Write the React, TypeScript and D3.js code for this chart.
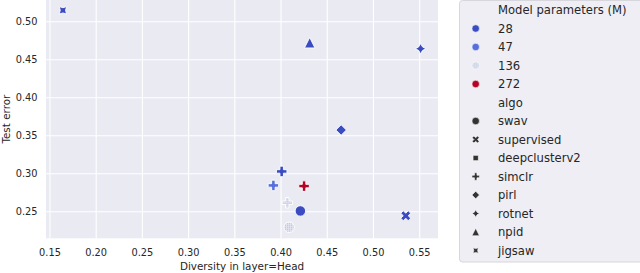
import React, { useEffect, useRef } from "react";
import * as d3 from "d3";

// legend entries
const paramSizes = [28, 47, 136, 272];
const algos = ["swav", "supervised", "deepclusterv2", "simclr", "pirl", "rotnet", "npid", "jigsaw"];

// points
const pointAlgo = ["jigsaw", "npid", "rotnet", "pirl", "simclr", "simclr", "simclr", "simclr", "swav", "swav", "supervised"];
const pointParams = [28, 28, 28, 28, 28, 47, 272, 136, 28, 136, 28];
const diversity = [0.164, 0.431, 0.551, 0.465, 0.4007, 0.3917, 0.4249, 0.4068, 0.4209, 0.4087, 0.5349];
const testError = [0.515, 0.4724, 0.4645, 0.3575, 0.303, 0.2846, 0.2837, 0.2618, 0.251, 0.2295, 0.2447];

const xTicks = [0.15, 0.2, 0.25, 0.3, 0.35, 0.4, 0.45, 0.5, 0.55];
const yTicks = [0.25, 0.3, 0.35, 0.4, 0.45, 0.5];

const paramColors: Record<number, string> = {
  28: "#3b4cc0",
  47: "#566fdc",
  136: "url(#dots136)",
  272: "#b40426",
};

// matplotlib-like marker paths, s = full marker size in px
function markerPath(algo: string, s: number): string {
  const h = s / 2;
  const poly = (pts: number[][]) => "M" + pts.map(p => p[0].toFixed(2) + "," + p[1].toFixed(2)).join("L") + "Z";
  const star = (n: number, rot: number) => {
    const pts: number[][] = [];
    for (let i = 0; i < n * 2; i++) {
      const r = i % 2 === 0 ? h : h * 0.5;
      const a = (Math.PI / n) * i + rot;
      pts.push([r * Math.sin(a), -r * Math.cos(a)]);
    }
    return poly(pts);
  };
  const plus = [[-1, -3], [1, -3], [1, -1], [3, -1], [3, 1], [1, 1], [1, 3], [-1, 3], [-1, 1], [-3, 1], [-3, -1], [-1, -1]];
  switch (algo) {
    case "swav":
      return d3.symbol().type(d3.symbolCircle).size(Math.PI * h * h)() as string;
    case "simclr":
      return poly(plus.map(p => [p[0] * s / 6, p[1] * s / 6]));
    case "supervised": {
      const c = Math.SQRT1_2;
      return poly(plus.map(p => [(p[0] * c - p[1] * c) * s / 6, (p[0] * c + p[1] * c) * s / 6]));
    }
    case "deepclusterv2": {
      const q = h * Math.SQRT1_2;
      return poly([[-q, -q], [q, -q], [q, q], [-q, q]]);
    }
    case "pirl":
      return poly([[0, -h], [h, 0], [0, h], [-h, 0]]);
    case "rotnet":
      return star(4, 0);
    case "npid":
      return poly([[0, -h], [h, h], [-h, h]]);
    case "jigsaw":
      return star(4, Math.PI / 4);
  }
  return "";
}

const W = 640, H = 273;
const margin = { left: 46, right: 438, top: 0, bottom: 238.3 };

function App() {
  const ref = useRef<SVGSVGElement>(null);

  useEffect(() => {
    const svg = d3.select(ref.current);
    svg.selectAll("*").remove();

    const defs = svg.append("defs");
    const pat = defs.append("pattern").attr("id", "dots136").attr("patternUnits", "userSpaceOnUse")
      .attr("width", 2).attr("height", 2);
    pat.append("rect").attr("width", 2).attr("height", 2).attr("fill", "#e2e4ee");
    pat.append("rect").attr("width", 1).attr("height", 1).attr("fill", "#b3bfdf");

    const x = d3.scaleLinear().domain([0.1457, 0.5698]).range([margin.left, margin.right]);
    const y = d3.scaleLinear().domain([0.215, 0.5286]).range([margin.bottom, margin.top]);

    const font = "DejaVu Sans, sans-serif";
    const textColor = "#262626";

    // background
    svg.append("rect")
      .attr("x", margin.left).attr("y", margin.top)
      .attr("width", margin.right - margin.left).attr("height", margin.bottom - margin.top)
      .attr("fill", "#eaeaf2");

    // grid
    svg.selectAll(".gx").data(xTicks).join("line").attr("class", "gx")
      .attr("x1", d => x(d)).attr("x2", d => x(d))
      .attr("y1", margin.top).attr("y2", margin.bottom)
      .attr("stroke", "#fff").attr("stroke-width", 1.1);
    svg.selectAll(".gy").data(yTicks).join("line").attr("class", "gy")
      .attr("y1", d => y(d)).attr("y2", d => y(d))
      .attr("x1", margin.left).attr("x2", margin.right)
      .attr("stroke", "#fff").attr("stroke-width", 1.1);

    // tick labels
    svg.selectAll(".tx").data(xTicks).join("text").attr("class", "tx")
      .attr("x", d => x(d)).attr("y", 255.5)
      .attr("text-anchor", "middle")
      .attr("font-family", font).attr("font-size", 9.8).attr("fill", textColor)
      .text(d => d3.format(".2f")(d));
    svg.selectAll(".ty").data(yTicks).join("text").attr("class", "ty")
      .attr("x", 37.5).attr("y", d => y(d))
      .attr("dy", "0.35em")
      .attr("text-anchor", "end")
      .attr("font-family", font).attr("font-size", 9.8).attr("fill", textColor)
      .text(d => d3.format(".2f")(d));

    // axis titles
    svg.append("text")
      .attr("x", (margin.left + margin.right) / 2).attr("y", 269.5)
      .attr("text-anchor", "middle")
      .attr("font-family", font).attr("font-size", 10.4).attr("fill", textColor)
      .text("Diversity in layer=Head");
    svg.append("text")
      .attr("transform", `translate(10, ${(margin.top + margin.bottom) / 2}) rotate(-90)`)
      .attr("text-anchor", "middle")
      .attr("font-family", font).attr("font-size", 10.4).attr("fill", textColor)
      .text("Test error");

    // points
    const idx = d3.range(diversity.length);
    svg.selectAll(".pt").data(idx).join("path").attr("class", "pt")
      .attr("transform", i => `translate(${x(diversity[i])}, ${y(testError[i])})`)
      .attr("d", i => markerPath(pointAlgo[i], 10.5))
      .attr("fill", i => paramColors[pointParams[i]])
      .attr("stroke", "#fff").attr("stroke-width", 0.9);

    // legend
    const lg = svg.append("g");
    lg.append("rect")
      .attr("x", 459.5).attr("y", 0.5).attr("width", 200).attr("height", 261.5).attr("rx", 3)
      .attr("fill", "#eeeef4").attr("stroke", "#d6d6dc").attr("stroke-width", 1);

    const rows: { label: string; kind: string; color?: number; algo?: string }[] = [
      { label: "Model parameters (M)", kind: "title" },
      ...paramSizes.map(p => ({ label: String(p), kind: "hue", color: p })),
      { label: "algo", kind: "title" },
      ...algos.map(a => ({ label: a, kind: "style", algo: a })),
    ];
    const rowY = (i: number) => 10 + i * 18.5;

    lg.selectAll(".lt").data(rows).join("text").attr("class", "lt")
      .attr("x", 498).attr("y", (d, i) => rowY(i))
      .attr("dy", "0.35em")
      .attr("font-family", font).attr("font-size", 11.6).attr("fill", textColor)
      .text(d => d.label);

    lg.selectAll(".lm").data(rows.map((d, i) => ({ ...d, i })).filter(d => d.kind !== "title"))
      .join("path").attr("class", "lm")
      .attr("transform", d => `translate(475.7, ${rowY(d.i)})`)
      .attr("d", d => markerPath(d.kind === "hue" ? "swav" : d.algo!, 7.5))
      .attr("fill", d => d.kind === "hue" ? paramColors[d.color!] : "#333333")
      .attr("stroke", "#fff").attr("stroke-width", 0.6);
  }, []);

  return (
    <svg ref={ref} width={W} height={H}
      style={{ position: "absolute", left: 0, top: 0, background: "#fff" }} />
  );
}

export default App;
